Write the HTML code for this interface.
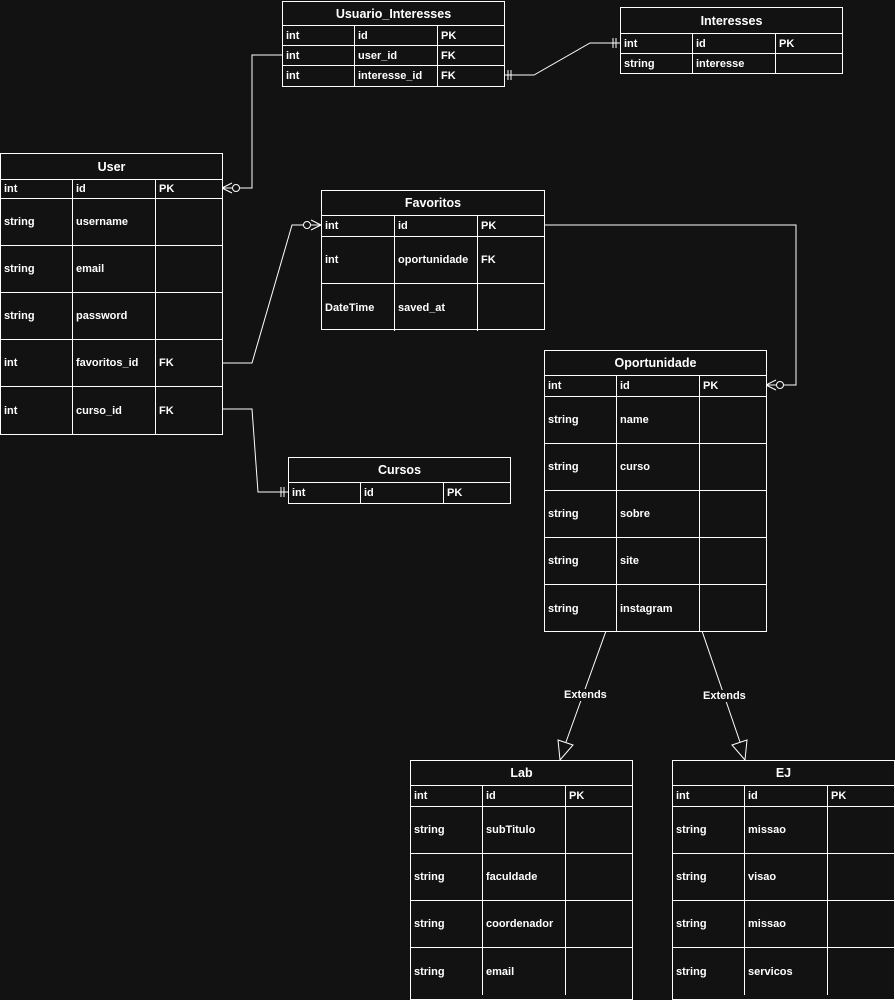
<!DOCTYPE html>
<html><head><meta charset="utf-8"><style>
body{margin:0;width:895px;height:995px;background:#121212;overflow:hidden;position:relative;font-family:"Liberation Sans",Arial,sans-serif;color:#fff;font-weight:bold;font-size:11px}
.t{position:absolute;border:1px solid #fff;box-sizing:border-box;background:#121212}
.h{text-align:center;font-size:12.5px;border-bottom:1px solid #fff;box-sizing:border-box;display:flex;align-items:center;justify-content:center}
.r{display:flex;border-bottom:1px solid #fff;box-sizing:border-box}
.r:last-child{border-bottom:none}
.r div{box-sizing:border-box;padding-left:3px;display:flex;align-items:center;border-right:1px solid #fff}
.r div:last-child{border-right:none}
svg{position:absolute;left:0;top:0}
</style></head><body>
<svg width="895" height="995" fill="none" stroke="#fff" stroke-width="1">
<!-- user id -> usuario user_id -->
<path d="M222 188H252V55H282"/>
<path d="M222 188L232 183M222 188L232 193M222 188H232"/><circle cx="236" cy="188" r="3.5" fill="#121212"/>
<!-- usuario interesse_id -> interesses id -->
<path d="M504 75H534L590 43H620"/>
<path d="M508 70V80M511 70V80M613 38V48M616 38V48"/>
<!-- user favoritos -> favoritos id -->
<path d="M222 363H252L292 225H321"/>
<path d="M321 225L311 220M321 225L311 230M321 225H311"/><circle cx="307" cy="225" r="3.5" fill="#121212"/>
<!-- favoritos id -> oportunidade id -->
<path d="M544 225H796V385H766"/>
<path d="M766 385L776 380M766 385L776 390M766 385H776"/><circle cx="780" cy="385" r="3.5" fill="#121212"/>
<!-- user curso -> cursos -->
<path d="M222 409H252L258 492H288"/>
<path d="M281 487V497M284 487V497"/>
<!-- extends -->
<path d="M606 631L566 742"/><path d="M560 760L558 740L573 745Z" fill="#121212"/>
<path d="M702 631L740 742"/><path d="M745 760L732 745L747 740Z" fill="#121212"/>
</svg>
<div style="position:absolute;left:561px;top:689px;background:#121212;padding:0 3px">Extends</div>
<div style="position:absolute;left:700px;top:690px;background:#121212;padding:0 3px">Extends</div>

<div class="t" style="left:282px;top:1px;width:223px;height:86px">
<div class="h" style="height:24px">Usuario_Interesses</div>
<div class="r" style="height:20px"><div style="width:72px">int</div><div style="width:83px">id</div><div style="flex:1">PK</div></div>
<div class="r" style="height:20px"><div style="width:72px">int</div><div style="width:83px">user_id</div><div style="flex:1">FK</div></div>
<div class="r" style="height:20px"><div style="width:72px">int</div><div style="width:83px">interesse_id</div><div style="flex:1">FK</div></div>
</div>

<div class="t" style="left:620px;top:7px;width:223px;height:67px">
<div class="h" style="height:26px">Interesses</div>
<div class="r" style="height:20px"><div style="width:72px">int</div><div style="width:83px">id</div><div style="flex:1">PK</div></div>
<div class="r" style="height:19px"><div style="width:72px">string</div><div style="width:83px">interesse</div><div style="flex:1"></div></div>
</div>

<div class="t" style="left:0;top:153px;width:223px;height:282px">
<div class="h" style="height:26px">User</div>
<div class="r" style="height:19px"><div style="width:72px">int</div><div style="width:83px">id</div><div style="flex:1">PK</div></div>
<div class="r" style="height:47px"><div style="width:72px">string</div><div style="width:83px">username</div><div style="flex:1"></div></div>
<div class="r" style="height:47px"><div style="width:72px">string</div><div style="width:83px">email</div><div style="flex:1"></div></div>
<div class="r" style="height:47px"><div style="width:72px">string</div><div style="width:83px">password</div><div style="flex:1"></div></div>
<div class="r" style="height:47px"><div style="width:72px">int</div><div style="width:83px">favoritos_id</div><div style="flex:1">FK</div></div>
<div class="r" style="height:47px"><div style="width:72px">int</div><div style="width:83px">curso_id</div><div style="flex:1">FK</div></div>
</div>

<div class="t" style="left:321px;top:190px;width:224px;height:140px">
<div class="h" style="height:25px">Favoritos</div>
<div class="r" style="height:21px"><div style="width:73px">int</div><div style="width:83px">id</div><div style="flex:1">PK</div></div>
<div class="r" style="height:47px"><div style="width:73px">int</div><div style="width:83px">oportunidade</div><div style="flex:1">FK</div></div>
<div class="r" style="height:47px"><div style="width:73px">DateTime</div><div style="width:83px">saved_at</div><div style="flex:1"></div></div>
</div>

<div class="t" style="left:544px;top:350px;width:223px;height:282px">
<div class="h" style="height:25px">Oportunidade</div>
<div class="r" style="height:21px"><div style="width:72px">int</div><div style="width:83px">id</div><div style="flex:1">PK</div></div>
<div class="r" style="height:47px"><div style="width:72px">string</div><div style="width:83px">name</div><div style="flex:1"></div></div>
<div class="r" style="height:47px"><div style="width:72px">string</div><div style="width:83px">curso</div><div style="flex:1"></div></div>
<div class="r" style="height:47px"><div style="width:72px">string</div><div style="width:83px">sobre</div><div style="flex:1"></div></div>
<div class="r" style="height:47px"><div style="width:72px">string</div><div style="width:83px">site</div><div style="flex:1"></div></div>
<div class="r" style="height:47px"><div style="width:72px">string</div><div style="width:83px">instagram</div><div style="flex:1"></div></div>
</div>

<div class="t" style="left:288px;top:457px;width:223px;height:47px">
<div class="h" style="height:25px">Cursos</div>
<div class="r" style="height:20px"><div style="width:72px">int</div><div style="width:83px">id</div><div style="flex:1">PK</div></div>
</div>

<div class="t" style="left:410px;top:760px;width:223px;height:240px">
<div class="h" style="height:25px">Lab</div>
<div class="r" style="height:21px"><div style="width:72px">int</div><div style="width:83px">id</div><div style="flex:1">PK</div></div>
<div class="r" style="height:47px"><div style="width:72px">string</div><div style="width:83px">subTitulo</div><div style="flex:1"></div></div>
<div class="r" style="height:47px"><div style="width:72px">string</div><div style="width:83px">faculdade</div><div style="flex:1"></div></div>
<div class="r" style="height:47px"><div style="width:72px">string</div><div style="width:83px">coordenador</div><div style="flex:1"></div></div>
<div class="r" style="height:47px"><div style="width:72px">string</div><div style="width:83px">email</div><div style="flex:1"></div></div>
</div>

<div class="t" style="left:672px;top:760px;width:223px;height:240px">
<div class="h" style="height:25px">EJ</div>
<div class="r" style="height:21px"><div style="width:72px">int</div><div style="width:83px">id</div><div style="flex:1">PK</div></div>
<div class="r" style="height:47px"><div style="width:72px">string</div><div style="width:83px">missao</div><div style="flex:1"></div></div>
<div class="r" style="height:47px"><div style="width:72px">string</div><div style="width:83px">visao</div><div style="flex:1"></div></div>
<div class="r" style="height:47px"><div style="width:72px">string</div><div style="width:83px">missao</div><div style="flex:1"></div></div>
<div class="r" style="height:47px"><div style="width:72px">string</div><div style="width:83px">servicos</div><div style="flex:1"></div></div>
</div>
</body></html>
